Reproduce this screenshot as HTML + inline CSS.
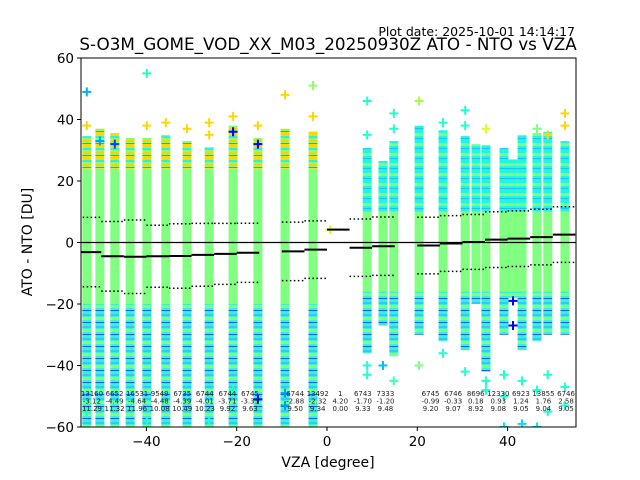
<!DOCTYPE html>
<html><head><meta charset="utf-8">
<style>
html,body{margin:0;padding:0;background:#fff;}
svg{display:block;font-family:"DejaVu Sans","Liberation Sans",sans-serif;}
</style></head>
<body>
<svg id="chart" width="640" height="480" viewBox="0 0 640 480" xmlns="http://www.w3.org/2000/svg">
<defs>
<clipPath id="plotClip"><rect x="81" y="58" width="495" height="369"/></clipPath>
<pattern id="patTopL" width="10" height="12" patternUnits="userSpaceOnUse">
<rect width="10" height="12" fill="#80ff80"/>
<rect y="0" width="10" height="3" fill="#ffd700"/>
<rect y="4" width="10" height="2" fill="#30f0d8"/>
<rect y="8" width="10" height="2" fill="#ffd000"/>
<rect y="11" width="10" height="1" fill="#20a0ff"/>
</pattern>
<pattern id="patTopR" width="10" height="10" patternUnits="userSpaceOnUse">
<rect width="10" height="10" fill="#1ff8dc"/>
<rect y="3" width="10" height="3" fill="#80ff80"/>
<rect y="8" width="10" height="1" fill="#20c0ff"/>
</pattern>
<pattern id="patBot" width="10" height="12" patternUnits="userSpaceOnUse">
<rect width="10" height="12" fill="#38f4cc"/>
<rect y="2" width="10" height="2" fill="#30c8ff"/>
<rect y="5" width="10" height="3" fill="#80ff80"/>
<rect y="10" width="10" height="1" fill="#1060ff"/>
</pattern>
</defs>
<text x="575" y="36" font-size="12.5" text-anchor="end">Plot date: 2025-10-01 14:14:17</text>
<text x="328" y="50" font-size="16.8" text-anchor="middle">S-O3M_GOME_VOD_XX_M03_20250930Z ATO - NTO vs VZA</text>
<g id="marks" clip-path="url(#plotClip)"></g>
<g id="lines" clip-path="url(#plotClip)"></g>
<g id="annot"></g>
<rect x="81" y="58" width="495" height="369" fill="none" stroke="#000" stroke-width="1"/>
<g id="axes"></g>
<text x="328" y="467" font-size="14" text-anchor="middle">VZA [degree]</text>
<text transform="translate(32,242) rotate(-90)" font-size="14" text-anchor="middle">ATO - NTO [DU]</text>
</svg>
<script>
const colVza=[-53.2,-50.3,-47.0,-43.6,-39.9,-35.7,-31.0,-26.1,-20.8,-15.3,-9.3,-3.1,8.9,12.4,14.8,20.4,25.7,30.6,33.0,35.2,39.2,41.2,43.2,46.5,48.9,52.7];
const colTop=[34.6,37,35.6,34,34,35,33,31,38,34,37,36,30.7,26.5,33,38,36.5,34.6,32,31.7,30.7,27,35,35.6,36,33];
const colBottom=[-61,-61,-61,-61,-61,-61,-61,-61,-61,-61,-61,-61,-36,-27,-37,-30,-32,-35,-20,-42,-30,-18,-35,-32,-30,-30];
const binLo=[-55,-50,-45,-40,-35,-30,-25,-20,-10,-5,0,5,10,20,25,30,35,40,45,50];
const binCount=["13160","6652","16531","9549","6735","6744","6744","6745","6744","13492","1","6743","7333","6745","6746","8696","12330","6923","13855","6746"];
const binMean=[-3.12,-4.49,-4.64,-4.48,-4.39,-4.01,-3.71,-3.35,-2.88,-2.32,4.20,-1.70,-1.20,-0.99,-0.33,0.18,0.93,1.24,1.76,2.58];
const binStd=[11.29,11.32,11.96,10.08,10.49,10.23,9.92,9.63,9.50,9.34,0.00,9.33,9.48,9.20,9.07,8.92,9.08,9.05,9.04,9.05];
const outVza=[-53.2,-53.2,-50.3,-47,-39.9,-39.9,-35.7,-31,-26.1,-26.1,-20.8,-20.8,-15.3,-15.3,-9.3,-3.1,-3.1,0.7,-53.2,-39.9,-26.1,-15.3,-9.3,-9.3,-20.8,8.9,8.9,14.8,14.8,20.4,25.7,30.6,30.6,35.2,46.5,48.9,52.7,52.7,8.9,8.9,12.4,14.8,20.4,25.7,30.6,35.2,35.2,39.2,39.2,39.2,41.2,41.2,43.2,43.2,46.5,46.5,48.9,48.9,52.7,52.7];
const outVal=[49,38,33,32,55,38,39,37,39,35,41,36,38,32,48,51,41,4.2,-55,-58,-58,-51,-49,-53,-48,46,35,42,37,46,39,43,38,37,37,35,42,38,-43,-40,-40,-45,-40,-36,-42,-45,-48,-43,-50,-60,-19,-27,-45,-59,-48,-60,-43,-55,-47,-53];
const outColor=["#00b0ff","#ffd700","#00a0ff","#0040ff","#20ffc0","#ffd700","#ffd700","#ffd700","#ffd700","#ffd700","#ffd700","#0000ff","#ffd700","#0000ff","#ffd700","#90ff60","#ffd700","#e0ff00","#20ffc0","#20ffc0","#20ffc0","#0000ff","#00a0ff","#00a0ff","#20ffc0","#20ffd0","#20ffd0","#20ffd0","#20ffd0","#a0ff40","#20ffd0","#20ffd0","#20ffd0","#e0ff20","#80ff80","#ffd700","#ffd700","#ffd700","#20ffd0","#20ffd0","#00c0ff","#40ffb0","#80ff80","#20ffd0","#20ffd0","#20ffd0","#20ffd0","#20ffd0","#20ffd0","#00e0ff","#0000ff","#0000ff","#20ffd0","#00e0ff","#20ffd0","#00e0ff","#20ffd0","#20ffd0","#20ffd0","#20ffd0"];
const xTicks=[-40,-20,0,20,40];
const yTicks=[60,40,20,0,-20,-40,-60];

const NS="http://www.w3.org/2000/svg";
function xs(v){return 327+v*4.515;}
function ys(v){return 242.5-v*3.075;}
function mk(tag,attrs,parent){const e=document.createElementNS(NS,tag);for(const k in attrs)e.setAttribute(k,attrs[k]);parent.appendChild(e);return e;}
const marks=document.getElementById('marks');
const lines=document.getElementById('lines');
const annot=document.getElementById('annot');
const axes=document.getElementById('axes');

colVza.forEach((v,i)=>{
  const g=mk('g',{},marks);
  
  
  const x=xs(v)-4.5, top=colTop[i], bot=colBottom[i];
  const right=v>0;
  const upSplit=right?10:24, loSplit=right?-16:-20;
  const segs=[[top,Math.max(upSplit,bot),right?'url(#patTopR)':'url(#patTopL)'],
              [Math.min(upSplit,top),Math.max(loSplit,bot),'#80ff80'],
              [Math.min(loSplit,top),bot,'url(#patBot)']];
  segs.forEach(s=>{
    if(s[0]>s[1]){
      const r=mk('rect',{x:x,y:ys(s[0]),width:9,height:ys(s[1])-ys(s[0]),fill:s[2]},g);
      
      
    }
  });
});
outVza.forEach((v,i)=>{
  const cx=xs(v), cy=ys(outVal[i]);
  const p=mk('path',{d:`M${cx-4.5},${cy}H${cx+4.5}M${cx},${cy-4.5}V${cy+4.5}`,stroke:outColor[i],'stroke-width':2,fill:'none'},marks);
  
  
});
const z=mk('line',{x1:81,x2:576,y1:ys(0),y2:ys(0),stroke:'#000','stroke-width':1.2},lines);


binLo.forEach((lo,i)=>{
  const x1=xs(lo), x2=xs(lo+5);
  const m=mk('line',{x1:x1,x2:x2,y1:ys(binMean[i]),y2:ys(binMean[i]),stroke:'#000','stroke-width':2},lines);
  
  
  [binMean[i]+binStd[i],binMean[i]-binStd[i]].forEach(val=>{
    const d=mk('line',{x1:x1,x2:x2,y1:ys(val),y2:ys(val),stroke:'#000','stroke-width':1.5,'stroke-dasharray':'1.5,2.5'},lines);
    
    
  });
  const cx=xs(lo+2.5)+2;
  [binCount[i],binMean[i].toFixed(2),binStd[i].toFixed(2)].forEach((t,k)=>{
    const tx=mk('text',{x:cx,y:396+k*7.5,'font-size':7,'text-anchor':'middle',fill:'#222'},annot);
    tx.textContent=t;
    
    
  });
});
xTicks.forEach(t=>{
  const x=xs(t);
  const l=mk('line',{x1:x,x2:x,y1:427,y2:431,stroke:'#000','stroke-width':1},axes);
  
  
  const tx=mk('text',{x:x,y:446,'font-size':13.5,'text-anchor':'middle'},axes);
  tx.textContent=t<0?'\u2212'+Math.abs(t):String(t);
  
  
});
yTicks.forEach(t=>{
  const y=ys(t);
  const l=mk('line',{x1:77,x2:81,y1:y,y2:y,stroke:'#000','stroke-width':1},axes);
  
  
  const tx=mk('text',{x:74,y:y+5,'font-size':13.5,'text-anchor':'end'},axes);
  tx.textContent=t<0?'\u2212'+Math.abs(t):String(t);
  
  
});
</script>
</body></html>
